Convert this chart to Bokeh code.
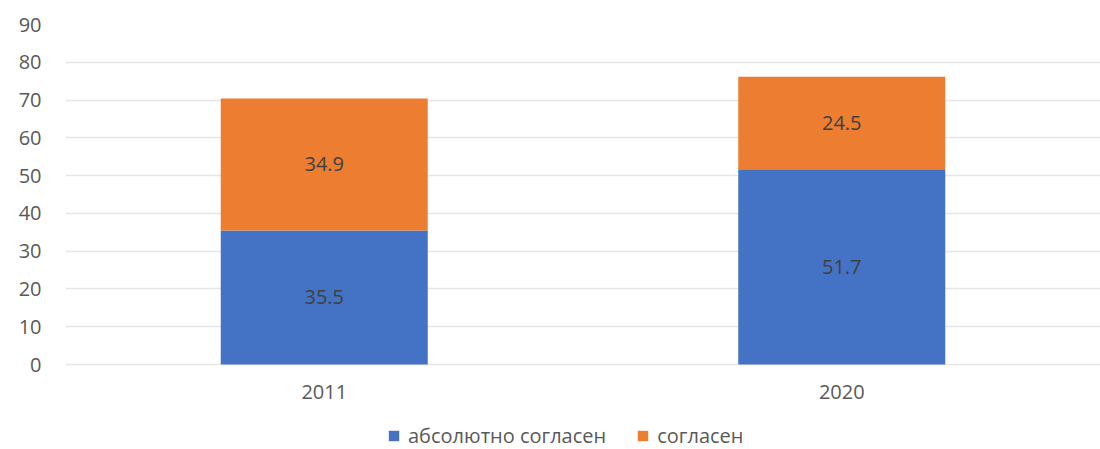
from bokeh.plotting import figure
from bokeh.models import (ColumnDataSource, FactorRange, Range1d, LabelSet, Legend,
                          LegendItem, FixedTicker)
from bokeh.core.properties import value
from bokeh.embed import file_html
from bokeh.resources import INLINE

years = ["2011", "2020"]
absolutely_agree = [35.5, 51.7]
agree = [34.9, 24.5]
series_names = ["абсолютно согласен", "согласен"]
colors = ["#4472C4", "#ED7D31"]
y_ticks = [0, 10, 20, 30, 40, 50, 60, 70, 80, 90]

FONT = "Open Sans"
TEXT_GRAY = "#595959"
FS = "20px"

# layout: value axis 0..90 occupies 340 px; extra room below 0 for year labels + legend
AXIS_PX = 340
BELOW_PX = 85
y_max = 90
y_min = -BELOW_PX * y_max / AXIS_PX

src = ColumnDataSource(dict(
    year=years,
    a=absolutely_agree,
    b=agree,
))

p = figure(x_range=FactorRange(*years), y_range=Range1d(y_min, y_max),
           frame_width=1035, frame_height=AXIS_PX + BELOW_PX, output_backend="svg",
           toolbar_location=None,
           min_border_left=65, min_border_right=0, min_border_top=24, min_border_bottom=0)
p.outline_line_color = None
p.background_fill_color = "white"

rs = p.vbar_stack(["a", "b"], x="year", width=0.4, source=src, color=colors,
                  line_color=None)

# data labels centered in each segment
lab_src = ColumnDataSource(dict(
    x=years + years,
    y=[v / 2 for v in absolutely_agree] + [a + b / 2 for a, b in zip(absolutely_agree, agree)],
    t=[f"{v}" for v in absolutely_agree] + [f"{v}" for v in agree],
))
labels = LabelSet(x="x", y="y", text="t", source=lab_src, text_align="center",
                  text_baseline="middle", text_font=value(FONT), text_font_size=value(FS),
                  text_color="#404040")
p.add_layout(labels)

p.yaxis.ticker = FixedTicker(ticks=y_ticks)
p.xaxis.fixed_location = 0
p.xgrid.grid_line_color = None
p.ygrid.grid_line_color = "#e6e6e6"
p.ygrid.grid_line_width = 1.5

for ax in (p.xaxis, p.yaxis):
    ax.axis_line_color = None
    ax.major_tick_line_color = None
    ax.minor_tick_line_color = None
    ax.major_tick_out = 0
    ax.major_tick_in = 0
    ax.major_label_text_font = FONT
    ax.major_label_text_font_size = FS
    ax.major_label_text_color = TEXT_GRAY
p.yaxis.major_label_standoff = 24
p.xaxis.major_label_standoff = 20

legend = Legend(items=[LegendItem(label=n, renderers=[r]) for n, r in zip(series_names, rs)],
                orientation="horizontal", location=(322, 0))
legend.label_text_font = FONT
legend.label_text_font_size = FS
legend.label_text_color = TEXT_GRAY
legend.glyph_width = 13
legend.glyph_height = 13
legend.label_standoff = 8
legend.spacing = 30
legend.padding = 0
legend.margin = 0
legend.border_line_color = None
legend.background_fill_alpha = 0
p.add_layout(legend, "center")

open("out.html", "w").write(file_html(p, INLINE))
